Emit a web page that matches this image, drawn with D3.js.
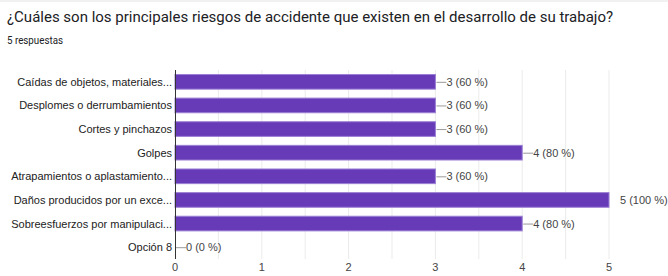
<!DOCTYPE html>
<html><head><meta charset="utf-8">
<script src="https://cdn.jsdelivr.net/npm/d3@7"></script>
<style>
html,body{margin:0;padding:0;background:#fff;}
svg{display:block;font-family:"Liberation Sans",Arial,sans-serif;}
</style></head>
<body>
<svg id="c" width="668" height="276"></svg>
<script>
const title = "¿Cuáles son los principales riesgos de accidente que existen en el desarrollo de su trabajo?";
const subtitle = "5 respuestas";
const categories = ["Caídas de objetos, materiales...","Desplomes o derrumbamientos","Cortes y pinchazos","Golpes","Atrapamientos o aplastamiento...","Daños producidos por un exce...","Sobreesfuerzos por manipulaci...","Opción 8"];
const values = [3,3,3,4,3,5,4,0];
const percents = [60,60,60,80,60,100,80,0];
const ticks = [0,1,2,3,4,5];
const gridValues = [0.5,1,1.5,2,2.5,3,3.5,4,4.5,5];

const svg = d3.select("#c");
svg.append("rect").attr("x",0).attr("y",0).attr("width",668).attr("height",2).attr("fill","#f1f1f1");
svg.append("text").attr("x",7).attr("y",22).attr("font-size",15).attr("fill","#202124")
  .style("font-family","Roboto,'Liberation Sans',Arial,sans-serif").text(title);
svg.append("text").attr("x",7).attr("y",44).attr("font-size",10.5).attr("fill","#202124")
  .attr("textLength",56).attr("lengthAdjust","spacingAndGlyphs")
  .style("font-family","Roboto,'Liberation Sans',Arial,sans-serif").text(subtitle);

const x = d3.scaleLinear().domain([0,5]).range([175,609]);
const y = d3.scaleBand().domain(categories).range([70,259]).paddingInner(0.38).paddingOuter(0.19);

const g = svg.append("g");
g.selectAll("line.grid").data(gridValues).join("line")
  .attr("x1",d=>x(d)).attr("x2",d=>x(d)).attr("y1",70).attr("y2",259)
  .attr("stroke","#ebebeb").attr("stroke-width",1);

g.selectAll("rect.bar").data(values).join("rect")
  .attr("x",x(0)).attr("y",(d,i)=>y(categories[i]))
  .attr("width",d=>Math.max(0,x(d)-x(0))).attr("height",y.bandwidth())
  .attr("fill",d=>d>0?"#673ab7":"none").attr("stroke",d=>d>0?"#9b7fd4":"none").attr("stroke-width",1);

g.append("line").attr("x1",x(0)+0.5).attr("x2",x(0)+0.5).attr("y1",70).attr("y2",259)
  .attr("stroke","#333").attr("stroke-width",1);

categories.forEach((c,i)=>{
  const cy = y(c)+y.bandwidth()/2;
  g.append("text").attr("x",172).attr("y",cy+4).attr("text-anchor","end")
    .attr("font-size",11).attr("fill","#222").text(c);
  const v = values[i];
  const xe = x(v);
  if (v < 5) {
    g.append("line").attr("x1",xe+1).attr("x2",xe+11).attr("y1",cy+0.5).attr("y2",cy+0.5)
      .attr("stroke","#999").attr("stroke-width",1);
  }
  g.append("text").attr("x",xe+11).attr("y",cy+4).attr("font-size",11).attr("fill","#444")
    .text(v+" ("+percents[i]+" %)");
});

g.selectAll("text.tick").data(ticks).join("text")
  .attr("x",d=>x(d)).attr("y",271).attr("text-anchor","middle")
  .attr("font-size",11).attr("fill","#444").text(d=>d);
</script>
</body></html>
